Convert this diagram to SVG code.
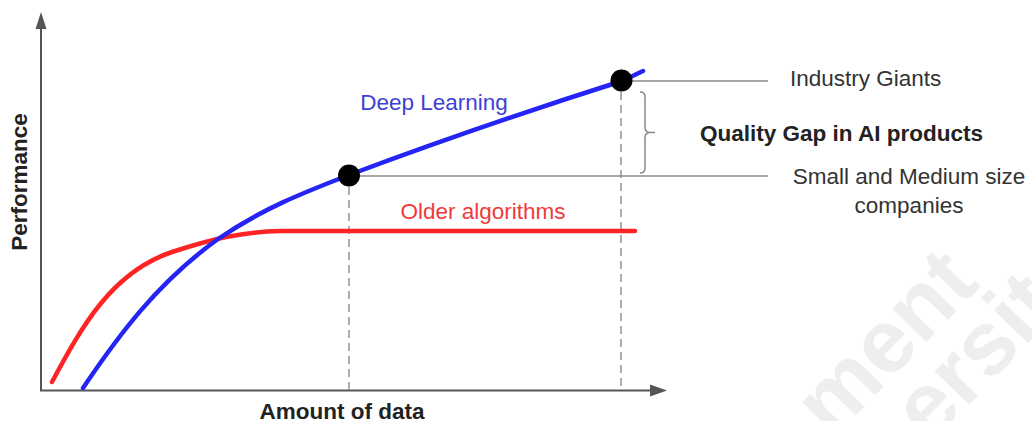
<svg xmlns="http://www.w3.org/2000/svg" width="1032" height="421" viewBox="0 0 1032 421">
  <style>
    .axis { stroke: #555; stroke-width: 2; fill: none; }
    .arrow { fill: #555; }
    .guide { stroke: #8a8a8a; stroke-width: 1.5; fill: none; }
    .dash { stroke: #999; stroke-width: 1.6; stroke-dasharray: 8 5; fill: none; }
    .curve { stroke-width: 4.5; fill: none; stroke-linecap: round; stroke-linejoin: round; }
    .dot { fill: #000; }
    .lbl { font-family: "Liberation Sans", Arial, sans-serif; font-size: 22.5px; fill: #333; }
    .bold { font-weight: bold; fill: #222; }
    .wm { font-family: "Liberation Sans", Arial, sans-serif; font-weight: bold; font-size: 90px; fill: #eeeeee; }
  </style>
  <rect width="1032" height="421" fill="#fff"/>

  <!-- faint background watermark -->
  <g id="watermark">
    <text class="wm" transform="translate(832,440) rotate(-46)">ment</text>
    <text class="wm" transform="translate(930,445) rotate(-46)">ersit</text>
  </g>

  <!-- axes -->
  <g id="axes">
    <line class="axis" x1="41" y1="391" x2="41" y2="26"/>
    <polygon class="arrow" points="41,12 35.5,29 46.5,29"/>
    <line class="axis" x1="40" y1="390.5" x2="652" y2="390.5"/>
    <polygon class="arrow" points="667,390.5 650,384.5 650,396.5"/>
    <text class="lbl bold" transform="translate(27,182) rotate(-90)" text-anchor="middle">Performance</text>
    <text class="lbl bold" x="342" y="419" text-anchor="middle">Amount of data</text>
  </g>

  <!-- guide lines -->
  <g id="connectors">
    <line class="dash" x1="349" y1="187" x2="349" y2="391"/>
    <line class="dash" x1="621" y1="92" x2="621" y2="391"/>
    <line class="guide" x1="621" y1="81" x2="768" y2="81"/>
    <line class="guide" x1="349" y1="176" x2="768" y2="176"/>
    <path class="guide" d="M640,92 Q645,92 645,97 L645,127 Q645,132.5 650,132.5 L655,132.5 M650,132.5 Q645,132.5 645,138 L645,168 Q645,173 640,173"/>
  </g>

  <!-- older algorithms curve -->
  <g id="older-algorithms">
    <path class="curve" stroke="#ff2424" d="M52,382 C82,326 112,272 172,252 C212,239 240,232 280,231 L635,231"/>
    <text class="lbl" x="483" y="219" text-anchor="middle" style="fill:#f03a3a">Older algorithms</text>
  </g>

  <!-- deep learning curve -->
  <g id="deep-learning">
    <path class="curve" stroke="#2424f5" d="M83,388 C118,336 158,282 218,239 C262,209 300,194 349,175 Q480,126 622,81 L643,71"/>
    <text class="lbl" x="434" y="110" text-anchor="middle" style="fill:#3f3fd6">Deep Learning</text>
  </g>

  <!-- marked points -->
  <g id="point-small-medium">
    <circle class="dot" cx="349" cy="175.5" r="11"/>
    <text class="lbl" x="909" y="184" text-anchor="middle">Small and Medium size</text>
    <text class="lbl" x="909" y="213" text-anchor="middle">companies</text>
  </g>
  <g id="point-giants">
    <circle class="dot" cx="621.5" cy="80.5" r="11"/>
    <text class="lbl" x="790" y="86">Industry Giants</text>
  </g>

  <g id="gap-label">
    <text class="lbl bold" x="700" y="141">Quality Gap in AI products</text>
  </g>
</svg>
